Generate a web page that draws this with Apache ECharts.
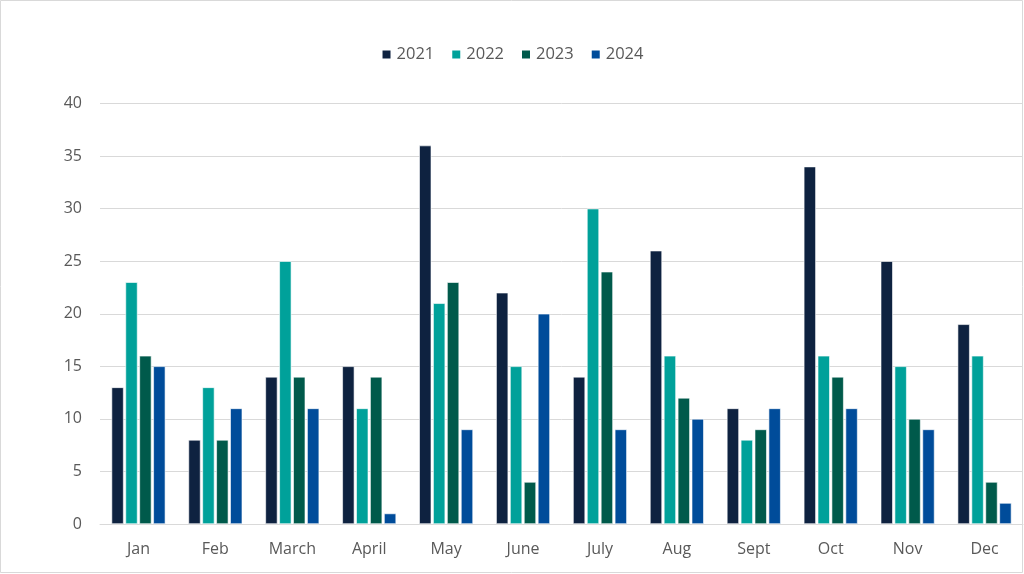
<!DOCTYPE html>
<html lang="en">
<head>
    <meta charset="UTF-8">
    <title>monthly bars</title>
    <style>
        html, body { margin: 0; padding: 0; background: #fff; }
        #chart { width: 1024px; height: 574px; }
    </style>
</head>
<body>
<div id="chart"></div>
<script src="https://cdn.jsdelivr.net/npm/echarts@6/dist/echarts.min.js"></script>
<script>
    var months = ['Jan', 'Feb', 'March', 'April', 'May', 'June', 'July', 'Aug', 'Sept', 'Oct', 'Nov', 'Dec'];
    var y2021 = [13, 8, 14, 15, 36, 22, 14, 26, 11, 34, 25, 19];
    var y2022 = [23, 13, 25, 11, 21, 15, 30, 16, 8, 16, 15, 16];
    var y2023 = [16, 8, 14, 14, 23, 4, 24, 12, 9, 14, 10, 4];
    var y2024 = [15, 11, 11, 1, 9, 20, 9, 10, 11, 11, 9, 2];
    var seriesNames = ['2021', '2022', '2023', '2024'];
    var colors = ['#0e2240', '#00a19a', '#005a4b', '#004c9a'];

    var chart = echarts.init(document.getElementById('chart'));
    var font = 'Open Sans, Liberation Sans, sans-serif';

    function bar(name, data, i) {
        return {
            name: name,
            type: 'bar',
            data: data,
            barGap: '15%',
            barCategoryGap: '30%',
            itemStyle: { color: colors[i], borderColor: '#ffffff', borderWidth: 0.6 }
        };
    }

    var option = {
        animation: false,
        backgroundColor: '#ffffff',
        color: colors,
        graphic: [{
            type: 'rect',
            shape: { x: 0.5, y: 0.5, width: 1022, height: 572 },
            style: { fill: 'none', stroke: '#d9d9d9', lineWidth: 1 },
            silent: true
        }],
        legend: {
            top: 41,
            left: 'center',
            itemWidth: 10,
            itemHeight: 10,
            itemGap: 16,
            icon: 'rect',
            textStyle: { color: '#595959', fontSize: 16.5, fontFamily: font }
        },
        grid: { left: 100, right: 1, top: 103.5, bottom: 50 },
        xAxis: {
            type: 'category',
            data: months,
            axisLine: { lineStyle: { color: '#d9d9d9' } },
            axisTick: { show: false },
            axisLabel: { color: '#595959', fontSize: 16, fontFamily: font, margin: 17 }
        },
        yAxis: {
            type: 'value',
            min: 0,
            max: 40,
            interval: 5,
            axisLine: { show: false },
            axisTick: { show: false },
            splitLine: { lineStyle: { color: '#d9d9d9' } },
            axisLabel: { color: '#595959', fontSize: 16, fontFamily: font, margin: 18 }
        },
        series: [
            bar(seriesNames[0], y2021, 0),
            bar(seriesNames[1], y2022, 1),
            bar(seriesNames[2], y2023, 2),
            bar(seriesNames[3], y2024, 3)
        ]
    };
    chart.setOption(option);
</script>
</body>
</html>
